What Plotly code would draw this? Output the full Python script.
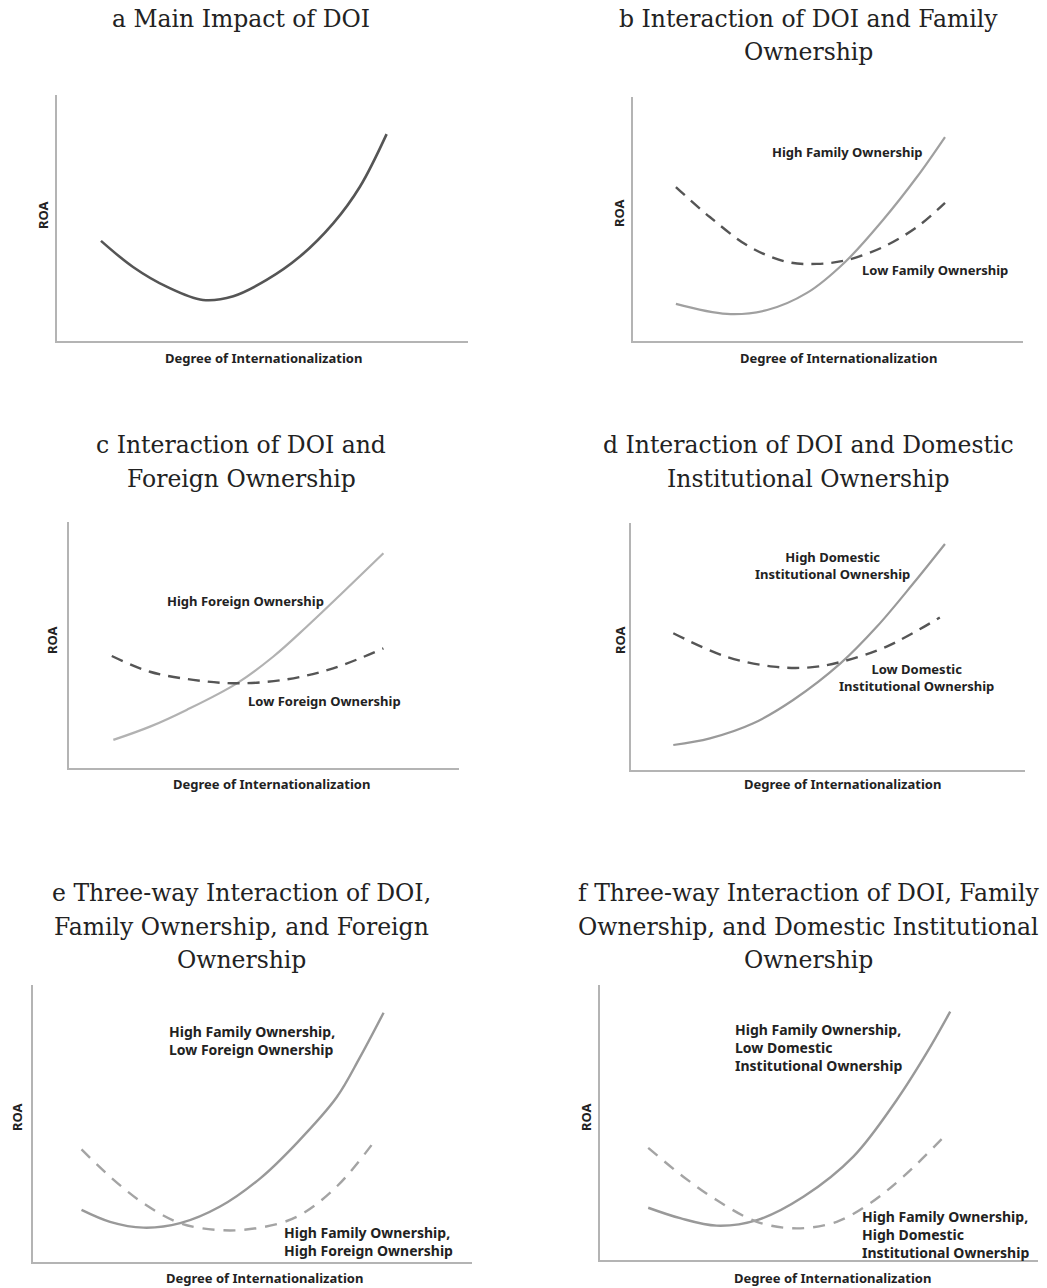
import plotly.graph_objects as go

W, H = 1047, 1288

# ---------------- data (x: DOI 0-10, y: ROA 0-10) -------------
a_x = [1.07, 1.85, 2.68, 3.55, 4.29, 5.10, 5.91, 6.72, 7.37, 8.02]
a_y = [4.07, 3.01, 2.20, 1.67, 1.82, 2.48, 3.43, 4.78, 6.27, 8.41]

b_high_x = [1.10, 2.41, 3.44, 4.46, 5.44, 6.41, 7.28, 8.00]
b_high_y = [1.52, 1.11, 1.27, 1.97, 3.24, 4.96, 6.72, 8.36]
b_low_x = [1.10, 1.97, 3.00, 3.95, 4.72, 5.49, 6.41, 7.28, 8.00]
b_low_y = [6.31, 5.08, 3.85, 3.24, 3.16, 3.32, 3.85, 4.67, 5.66]

c_high_x = [1.13, 2.07, 3.01, 4.30, 5.23, 6.09, 6.95, 8.06]
c_high_y = [1.13, 1.67, 2.35, 3.43, 4.51, 5.73, 7.02, 8.72]
c_low_x = [1.09, 2.07, 3.18, 4.30, 5.58, 6.77, 8.06]
c_low_y = [4.54, 3.90, 3.57, 3.43, 3.59, 4.04, 4.85]

d_high_x = [1.08, 2.01, 3.11, 4.12, 5.32, 6.24, 7.17, 7.97]
d_high_y = [1.01, 1.28, 1.89, 2.83, 4.31, 5.79, 7.55, 9.14]
d_low_x = [1.08, 2.43, 3.62, 4.55, 5.35, 6.49, 7.84]
d_low_y = [5.53, 4.58, 4.18, 4.15, 4.38, 4.99, 6.17]

e_hl_x = [1.10, 1.75, 2.51, 3.35, 4.26, 5.17, 6.01, 6.92, 7.45, 7.99]
e_hl_y = [1.89, 1.46, 1.25, 1.41, 2.01, 3.02, 4.30, 5.95, 7.39, 9.00]
e_hh_x = [1.10, 1.75, 2.51, 3.35, 4.26, 5.10, 6.01, 6.92, 7.83]
e_hh_y = [4.07, 3.09, 2.13, 1.41, 1.16, 1.23, 1.64, 2.73, 4.47]

f_hl_x = [1.10, 1.83, 2.66, 3.58, 4.64, 5.78, 6.77, 7.45, 7.99]
f_hl_y = [1.90, 1.52, 1.25, 1.45, 2.30, 3.76, 5.82, 7.52, 9.03]
f_hh_x = [1.10, 1.90, 2.66, 3.58, 4.49, 5.40, 6.16, 6.92, 7.89]
f_hh_y = [4.08, 3.03, 2.18, 1.39, 1.15, 1.39, 2.06, 3.03, 4.55]

titles = [
    ["a Main Impact of DOI"],
    ["b Interaction of DOI and Family", "Ownership"],
    ["c Interaction of DOI and", "Foreign Ownership"],
    ["d Interaction of DOI and Domestic", "Institutional Ownership"],
    ["e Three-way Interaction of DOI,", "Family Ownership, and Foreign", "Ownership"],
    ["f Three-way Interaction of DOI, Family", "Ownership, and Domestic Institutional", "Ownership"],
]
x_label = "Degree of Internationalization"
y_label = "ROA"

# ---------------- layout geometry (window pixels) -----------------
panels = [
    (57, 468, 95, 341),
    (633, 1023, 97, 341),
    (69.3, 459, 521.7, 767.7),
    (630.7, 1025, 522.7, 770),
    (33.3, 471.7, 985, 1262.3),
    (600, 1038.3, 985, 1260),
]
title_cx = [241, 808, 241, 808, 241, 808]
title_ys = [[19], [19, 52], [445, 479], [445, 479], [893, 927, 960], [893, 927, 960]]
xlab_pos = [(263, 358), (838, 358), (271, 784), (842, 784), (264, 1278), (832, 1278)]
ylab_pos = [(43, 215), (619, 213), (52, 640), (620, 640), (17, 1117), (586, 1117)]

def px(x):
    return x / W

def py(y):
    return 1 - y / H

fig = go.Figure()

DARK = "#555555"
MID = "#a0a0a0"
LIGHT = "#b2b2b2"
AXC = "#b4b4b4"

def axname(i, kind):
    return kind if i == 0 else f"{kind}{i+1}"

def add_curve(i, xs, ys, color, width, dash="solid"):
    fig.add_trace(go.Scatter(
        x=xs, y=ys, mode="lines",
        line=dict(color=color, width=width, shape="spline", smoothing=1.0, dash=dash),
        xaxis=axname(i, "x"), yaxis=axname(i, "y"),
        showlegend=False, hoverinfo="skip"))

add_curve(0, a_x, a_y, DARK, 2.6)
add_curve(1, b_high_x, b_high_y, MID, 2.2)
add_curve(1, b_low_x, b_low_y, DARK, 2.4, "12px,8px")
add_curve(2, c_high_x, c_high_y, LIGHT, 2.2)
add_curve(2, c_low_x, c_low_y, DARK, 2.4, "12px,8px")
add_curve(3, d_high_x, d_high_y, "#9a9a9a", 2.2)
add_curve(3, d_low_x, d_low_y, DARK, 2.4, "12px,8px")
add_curve(4, e_hl_x, e_hl_y, "#999999", 2.4)
add_curve(4, e_hh_x, e_hh_y, "#a4a4a4", 2.4, "12px,9px")
add_curve(5, f_hl_x, f_hl_y, "#999999", 2.4)
add_curve(5, f_hh_x, f_hh_y, "#a4a4a4", 2.4, "12px,9px")

layout = dict(
    width=W, height=H,
    margin=dict(l=0, r=0, t=0, b=0),
    paper_bgcolor="white", plot_bgcolor="white",
    showlegend=False,
)

for i, (l, r, t, b) in enumerate(panels):
    xa = dict(domain=[px(l), px(r)], range=[0, 10], showline=True, linecolor=AXC,
              linewidth=1.5, showgrid=False, zeroline=False, showticklabels=False,
              ticks="", anchor=axname(i, "y"), fixedrange=True)
    ya = dict(domain=[py(b), py(t)], range=[0, 10], showline=True, linecolor=AXC,
              linewidth=1.5, showgrid=False, zeroline=False, showticklabels=False,
              ticks="", anchor=axname(i, "x"), fixedrange=True)
    layout["xaxis" if i == 0 else f"xaxis{i+1}"] = xa
    layout["yaxis" if i == 0 else f"yaxis{i+1}"] = ya

fig.update_layout(**layout)

TFONT = dict(family="DejaVu Serif", size=23.5, color="#222222")
LFONT = dict(family="Noto Sans", size=13, color="#222222", weight="bold")
LFONT_BIG = dict(family="Noto Sans", size=14, color="#222222", weight="bold")
XFONT = dict(family="Noto Sans", size=13, color="#222222", weight="bold")

for i in range(6):
    for line, y in zip(titles[i], title_ys[i]):
        fig.add_annotation(text=line, xref="paper", yref="paper",
                           x=px(title_cx[i]), y=py(y), xanchor="center", yanchor="middle",
                           showarrow=False, font=TFONT)
    xx, xy = xlab_pos[i]
    fig.add_annotation(text=x_label, xref="paper", yref="paper", x=px(xx), y=py(xy),
                       xanchor="center", yanchor="middle", showarrow=False, font=XFONT)
    yx, yy = ylab_pos[i]
    fig.add_annotation(text=y_label, xref="paper", yref="paper", x=px(yx), y=py(yy),
                       xanchor="center", yanchor="middle", showarrow=False, textangle=-90,
                       font=XFONT)

def label(i, lines, x, y, anchor="center", font=LFONT):
    fig.add_annotation(text="<br>".join(lines), xref=axname(i, "x"), yref=axname(i, "y"),
                       x=x, y=y, xanchor=anchor, yanchor="middle",
                       align="left" if anchor == "left" else "center",
                       showarrow=False, font=font)

label(1, ["High Family Ownership"], 5.49, 7.75)
label(1, ["Low Family Ownership"], 7.74, 2.91)
label(2, ["High Foreign Ownership"], 4.51, 6.78)
label(2, ["Low Foreign Ownership"], 6.54, 2.71)
label(3, ["High Domestic", "Institutional Ownership"], 5.11, 8.25)
label(3, ["Low Domestic", "Institutional Ownership"], 7.26, 3.76)
label(4, ["High Family Ownership,", "Low Foreign Ownership"], 3.05, 8.0, "left", LFONT_BIG)
label(4, ["High Family Ownership,", "High Foreign Ownership"], 5.68, 0.75, "left", LFONT_BIG)
label(5, ["High Family Ownership,", "Low Domestic", "Institutional Ownership"],
      3.03, 7.71, "left", LFONT_BIG)
label(5, ["High Family Ownership,", "High Domestic", "Institutional Ownership"],
      5.93, 0.91, "left", LFONT_BIG)

fig.write_html("out.html", post_script="document.body.style.margin='0px';",
               config={"displayModeBar": False})
